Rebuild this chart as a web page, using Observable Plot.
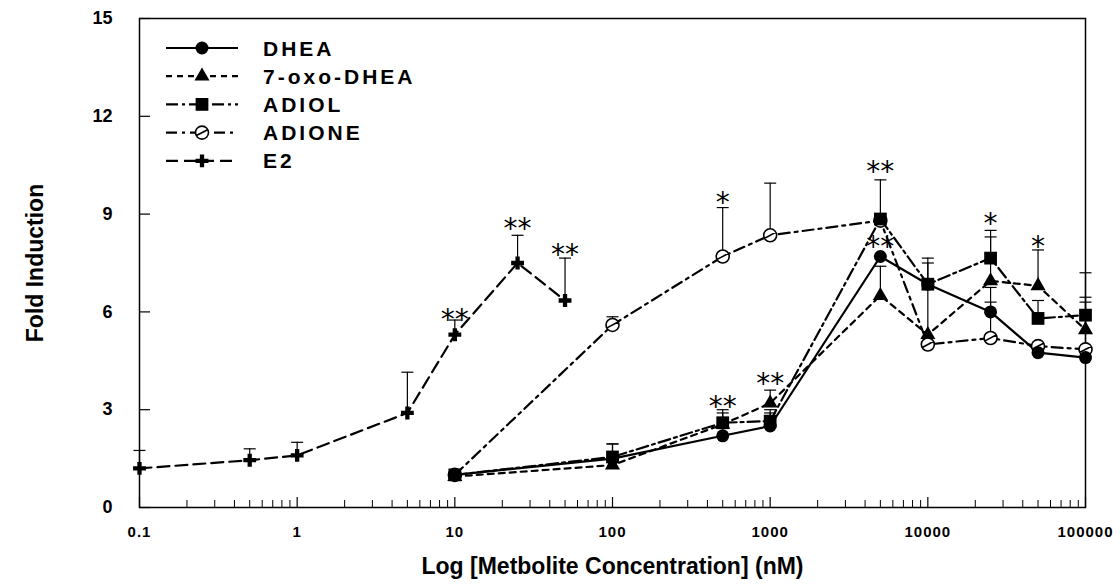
<!DOCTYPE html>
<html><head><meta charset="utf-8">
<script src="https://cdn.jsdelivr.net/npm/d3@7"></script>
<script src="https://cdn.jsdelivr.net/npm/@observablehq/plot@0.6"></script>
<style>
body{margin:0;background:#fff}
#wrap{position:relative;width:1120px;height:588px;overflow:hidden}
#wrap svg{position:absolute;left:0;top:0}
</style>
</head><body><div id="wrap"></div>
<script>
// ---------- data ----------
const seriesNames = ["DHEA","7-oxo-DHEA","ADIOL","ADIONE","E2"];
const conc = [10,100,500,1000,5000,10000,25000,50000,100000];
const dheaY   = [1.0,1.5,2.2,2.5,7.7,6.85,6.0,4.75,4.6];
const dheaErr = [null,1.95,2.6,2.9,null,null,6.3,null,null];
const oxoY    = [0.95,1.3,2.55,3.2,6.5,5.3,6.95,6.8,5.45];
const oxoErr  = [null,null,2.9,3.6,7.4,7.5,8.3,7.9,6.45];
const adiolY  = [1.0,1.55,2.6,2.65,8.85,6.85,7.65,5.8,5.9];
const adiolErr= [null,1.95,3.0,3.0,10.05,7.65,8.5,6.35,7.2];
const adioneY = [1.0,5.6,7.7,8.35,8.8,5.0,5.2,4.95,4.85];
const adioneErr=[null,5.85,9.2,9.95,null,null,6.75,null,6.3];
const concE2  = [0.1,0.5,1,5,10,25,50];
const e2Y     = [1.2,1.45,1.6,2.9,5.3,7.5,6.35];
const e2Err   = [1.75,1.8,2.0,4.15,5.75,8.35,7.65];

const starX    = [10,25,50,500,500,1000,5000,5000,25000,50000];
const starY    = [5.95,8.75,7.95,9.55,3.3,4.0,10.5,8.2,8.9,8.2];
const starText = ["**","**","**","*","**","**","**","**","*","*"];

const xTicks = [0.1,1,10,100,1000,10000,100000];
const xTickLabels = ["0.1","1","10","100","1000","10000","100000"];
const yTicks = [0,3,6,9,12,15];
const yTickLabels = ["0","3","6","9","12","15"];
const xTitle = "Log [Metbolite Concentration] (nM)";
const yTitle = "Fold Induction";

// ---------- styles ----------
const capSym = {draw(ctx,size){const r=Math.sqrt(size/Math.PI);ctx.moveTo(-r,0);ctx.lineTo(r,0);}};
const slashCircle = {draw(ctx,size){const r=Math.sqrt(size/Math.PI);ctx.moveTo(r,0);ctx.arc(0,0,r,0,2*Math.PI);ctx.moveTo(-r*0.85,r*0.45);ctx.lineTo(r*0.85,-r*0.45);}};
const styles = {
  "DHEA":       {dash:null,        sym:"circle",   r:6.5, fill:"black", stroke:"none"},
  "7-oxo-DHEA": {dash:"6,5",       sym:"triangle", r:5.6, fill:"black", stroke:"none"},
  "ADIOL":      {dash:"12,4,3,4",  sym:"square",   r:7.2, fill:"black", stroke:"none"},
  "ADIONE":     {dash:"11,5,3,5",  sym:slashCircle,r:6.5, fill:"white", stroke:"black"},
  "E2":         {dash:"12,6",      sym:"cross",    r:5.4, fill:"black", stroke:"none"}
};
const markerOrder = ["ADIONE","E2","7-oxo-DHEA","DHEA","ADIOL"];

function rows(xs, ys, es){ return xs.map((x,i)=>({x, y:ys[i], e:es[i]})); }
const data = {
  "DHEA": rows(conc,dheaY,dheaErr),
  "7-oxo-DHEA": rows(conc,oxoY,oxoErr),
  "ADIOL": rows(conc,adiolY,adiolErr),
  "ADIONE": rows(conc,adioneY,adioneErr),
  "E2": rows(concE2,e2Y,e2Err)
};
const stars = starX.map((x,i)=>({x, y:starY[i], t:starText[i]}));

const W=1120,H=588,mL=139,mR=35,mT=18,mB=81;
const fw=W-mL-mR, fh=H-mT-mB;
const minorX = d3.range(-1,5).flatMap(e=>d3.range(2,10).map(m=>+(m*Math.pow(10,e)).toPrecision(3)));
const font = "'Liberation Sans', Arial, Helvetica, sans-serif";

const marks = [
  Plot.frame({stroke:"black", strokeWidth:1.5}),
  Plot.tickX(minorX,{x:d=>d, insetTop:fh-7, stroke:"black", strokeWidth:1}),
  Plot.tickX(xTicks,{x:d=>d, insetTop:fh-10, stroke:"black", strokeWidth:1.2}),
  Plot.tickY(yTicks,{y:d=>d, insetRight:fw-11, stroke:"black", strokeWidth:1.2}),
  Plot.axisX(xTicks,{tickSize:0, tickPadding:19, fontSize:15, tickFormat:d=>xTickLabels[xTicks.indexOf(d)], label:null}),
  Plot.axisY(yTicks,{tickSize:0, tickPadding:27, fontSize:18, tickFormat:d=>yTickLabels[yTicks.indexOf(d)], label:null}),
  Plot.text([xTitle],{frameAnchor:"bottom", dy:66, fontSize:23, text:d=>d}),
  Plot.text([yTitle],{frameAnchor:"left", dx:-104, rotate:-90, textAnchor:"middle", fontSize:23, text:d=>d})
];
for (const name of seriesNames){
  const d = data[name], de = d.filter(v=>v.e!=null);
  marks.push(Plot.ruleX(de,{x:"x", y1:"y", y2:"e", stroke:"black", strokeWidth:1.2}));
  marks.push(Plot.dot(de,{x:"x", y:"e", symbol:capSym, r:6, stroke:"black", strokeWidth:1.2}));
}
for (const name of seriesNames){
  const s = styles[name], d = data[name];
  marks.push(Plot.line(d,{x:"x", y:"y", stroke:"black", strokeWidth:2.2, strokeDasharray:s.dash}));
}
for (const name of markerOrder){
  const s = styles[name], d = data[name];
  marks.push(Plot.dot(d,{x:"x", y:"y", symbol:s.sym, r:s.r, fill:s.fill, stroke:s.stroke, strokeWidth:1.6}));
}
marks.push(Plot.text(stars,{x:"x", y:"y", text:"t", fontSize:28, dy:7, fontWeight:"normal", fontFamily:"'DejaVu Sans', sans-serif"}));

const chart = Plot.plot({
  width:W, height:H, marginLeft:mL, marginRight:mR, marginTop:mT, marginBottom:mB,
  x:{type:"log", domain:[0.1,100000]},
  y:{domain:[0,15]},
  style:{fontFamily:font, fontWeight:"bold", background:"white", color:"black", overflow:"visible"},
  marks
});
const wrap = document.getElementById("wrap");
wrap.appendChild(chart);
d3.select(chart).selectAll('[aria-label="x-axis tick label"] text').attr("letter-spacing",1);

// ---------- legend overlay ----------
const leg = d3.select(wrap).append("svg").attr("width",W).attr("height",H).style("pointer-events","none");
const symMap = {circle:d3.symbolCircle, triangle:d3.symbolTriangle, square:d3.symbolSquare, cross:d3.symbolCross};
seriesNames.forEach((name,i)=>{
  const s = styles[name], y = 48 + i*28.2;
  const g = leg.append("g");
  g.append("line").attr("x1",166).attr("x2",238).attr("y1",y).attr("y2",y)
    .attr("stroke","black").attr("stroke-width",2.2).attr("stroke-dasharray",s.dash);
  const type = typeof s.sym === "string" ? symMap[s.sym] : s.sym;
  g.append("path").attr("transform",`translate(202,${y})`)
    .attr("d", d3.symbol(type, Math.PI*s.r*s.r)())
    .attr("fill",s.fill).attr("stroke",s.stroke).attr("stroke-width",1.6);
  g.append("text").attr("x",263).attr("y",y).attr("dy","0.36em")
    .attr("font-family",font).attr("font-weight","bold").attr("font-size",21)
    .attr("letter-spacing",3).text(name);
});
</script>
</body></html>
